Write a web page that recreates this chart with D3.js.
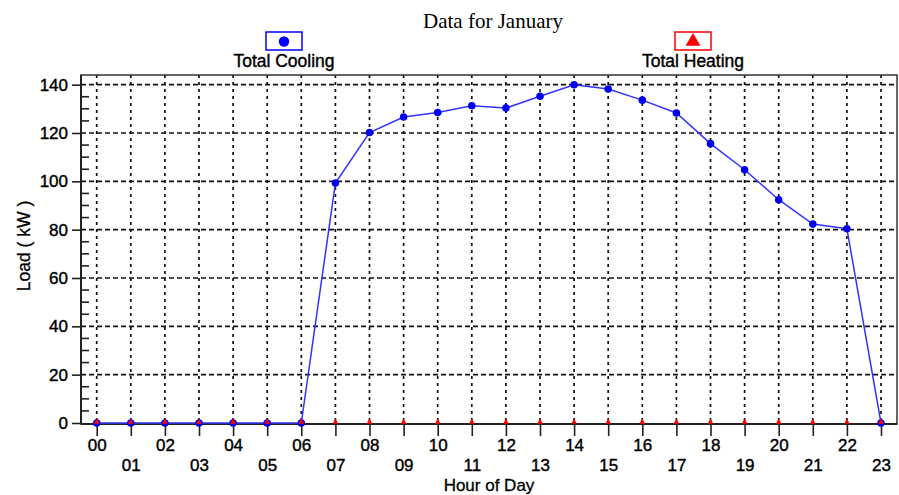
<!DOCTYPE html>
<html>
<head>
<meta charset="utf-8">
<script src="https://cdn.jsdelivr.net/npm/d3@7"></script>
<style>
  body { margin: 0; background: #fff; }
  svg { display: block; }
  .tick text { font-family: "Liberation Sans", Arial, sans-serif; }
</style>
</head>
<body>
<div id="chart"></div>
<script>
// hours and loads
var hours = ["00","01","02","03","04","05","06","07","08","09","10","11",
             "12","13","14","15","16","17","18","19","20","21","22","23"];
var cooling = [0, 0, 0, 0, 0, 0, 0, 99.3, 120.2, 126.6, 128.5, 131.3,
               130.3, 135.2, 140, 138.2, 133.6, 128.3, 115.6, 104.8, 92.4, 82.3, 80.4, 0];
var heating = [0, 0, 0, 0, 0, 0, 0, 0, 0, 0, 0, 0,
               0, 0, 0, 0, 0, 0, 0, 0, 0, 0, 0, 0];
var yTicks = [0, 20, 40, 60, 80, 100, 120, 140];

var W = 899, H = 495;
// plot box edges (note: "top" is taken by window.top, so use pLeft etc)
var pLeft = 81, pRight = 897, pTop = 75, pBottom = 424;
var sans = "Liberation Sans, Arial, sans-serif";

var svg = d3.select("#chart").append("svg")
  .attr("width", W).attr("height", H);

var x = d3.scalePoint().domain(hours).range([96.7, 881]);
var y = d3.scaleLinear().domain([0, 144]).range([pBottom - 1, pTop]);

//grid first so everything else sits on top
var grid = svg.append("g");
grid.selectAll("line.v").data(hours).enter().append("line")
  .attr("x1", function(d) { return x(d); }).attr("x2", function(d) { return x(d); })
  .attr("y1", pTop).attr("y2", pBottom)
  .attr("stroke", "#111").attr("stroke-width", 1.7)
  .attr("stroke-dasharray", "3,4");
grid.selectAll("line.h").data(yTicks.filter(function(d) { return d > 0; })).enter().append("line")
  .attr("x1", pLeft).attr("x2", pRight)
  .attr("y1", function(d) { return y(d); }).attr("y2", function(d) { return y(d); })
  .attr("stroke", "#111").attr("stroke-width", 1.7)
  .attr("stroke-dasharray", "5,3");

// frame
svg.append("rect")
  .attr("x", pLeft).attr("y", pTop)
  .attr("width", pRight - pLeft).attr("height", pBottom - pTop)
  .attr("fill", "none").attr("stroke", "#333").attr("stroke-width", 1.5);

// y axis: major ticks outside, minor ticks every 5 inside
var yAxis = svg.append("g").attr("transform", "translate(" + pLeft + ",0)")
  .call(d3.axisLeft(y).tickValues(yTicks).tickSize(9).tickPadding(4));
yAxis.select(".domain").attr("stroke", "#222").attr("stroke-width", 2)
  .attr("d", "M0," + pTop + "V" + pBottom);
yAxis.selectAll(".tick line").attr("stroke", "#222").attr("stroke-width", 1.6);
yAxis.selectAll(".tick text").attr("font-size", 17).attr("fill", "#000")
  .attr("stroke", "#000").attr("stroke-width", 0.4);

var minor = d3.range(5, 144, 5).filter(function(d) { return d % 20 !== 0; });
svg.append("g").selectAll("line").data(minor).enter().append("line")
  .attr("x1", pLeft).attr("x2", pLeft + 8)
  .attr("y1", function(d) { return y(d); }).attr("y2", function(d) { return y(d); })
  .attr("stroke", "#222").attr("stroke-width", 1.6);

// x axis with staggered labels
var xAxis = svg.append("g").attr("transform", "translate(0," + pBottom + ")")
  .call(d3.axisBottom(x).tickSize(12).tickPadding(4));
xAxis.select(".domain").attr("stroke", "#222").attr("stroke-width", 2)
  .attr("d", "M" + pLeft + ",0H" + pRight);
xAxis.selectAll(".tick line").attr("stroke", "#222").attr("stroke-width", 1.6);
xAxis.selectAll(".tick text").attr("font-size", 17).attr("fill", "#000")
  .attr("stroke", "#000").attr("stroke-width", 0.4)
  .attr("y", function(d, i) { return i % 2 === 0 ? 15 : 35; });

// series
var line = d3.line()
  .x(function(d, i) { return x(hours[i]); })
  .y(function(d) { return y(d); });

svg.append("path").datum(cooling)
  .attr("d", line).attr("fill", "none")
  .attr("stroke", "#3333ff").attr("stroke-width", 1.5);

svg.append("g").selectAll("path").data(cooling).enter().append("path")
  .attr("d", d3.symbol().type(d3.symbolCircle).size(45))
  .attr("transform", function(d, i) { return "translate(" + x(hours[i]) + "," + y(d) + ")"; })
  .attr("fill", "#0000ee");

svg.append("g").selectAll("path").data(heating).enter().append("path")
  .attr("d", d3.symbol().type(d3.symbolTriangle).size(14))
  .attr("transform", function(d, i) { return "translate(" + x(hours[i]) + "," + (y(d) - 1) + ")"; })
  .attr("fill", "#ff0000");

// title
svg.append("text")
  .attr("x", 493).attr("y", 28)
  .attr("text-anchor", "middle")
  .attr("font-family", "Liberation Serif, Times New Roman, serif")
  .attr("font-size", 21)
  .text("Data for January");

// legends
var legends = [
  { name: "Total Cooling", cx: 284, color: "#0000ff", sym: d3.symbolCircle, size: 85 },
  { name: "Total Heating", cx: 693, color: "#ff0000", sym: d3.symbolTriangle, size: 95 }
];
var lg = svg.append("g").selectAll("g").data(legends).enter().append("g");
lg.append("rect")
  .attr("x", function(d) { return d.cx - 18; }).attr("y", 32)
  .attr("width", 36).attr("height", 18)
  .attr("fill", "#fff")
  .attr("stroke", function(d) { return d.color; }).attr("stroke-width", 1.5);
lg.append("path")
  .attr("d", function(d) { return d3.symbol().type(d.sym).size(d.size)(); })
  .attr("transform", function(d) { return "translate(" + d.cx + ",41.5)"; })
  .attr("fill", function(d) { return d.color; });
lg.append("text")
  .attr("x", function(d) { return d.cx; }).attr("y", 67)
  .attr("text-anchor", "middle")
  .attr("font-family", sans)
  .attr("font-size", 17.5)
  .attr("stroke", "#000").attr("stroke-width", 0.4)
  .text(function(d) { return d.name; });

// axis titles
svg.append("text")
  .attr("transform", "translate(30,246) rotate(-90)")
  .attr("text-anchor", "middle")
  .attr("font-family", sans)
  .attr("font-size", 17.5)
  .attr("stroke", "#000").attr("stroke-width", 0.3)
  .text("Load ( kW )");

svg.append("text")
  .attr("x", 489).attr("y", 491)
  .attr("text-anchor", "middle")
  .attr("font-family", sans)
  .attr("font-size", 17)
  .attr("stroke", "#000").attr("stroke-width", 0.3)
  .text("Hour of Day");
</script>
</body>
</html>
